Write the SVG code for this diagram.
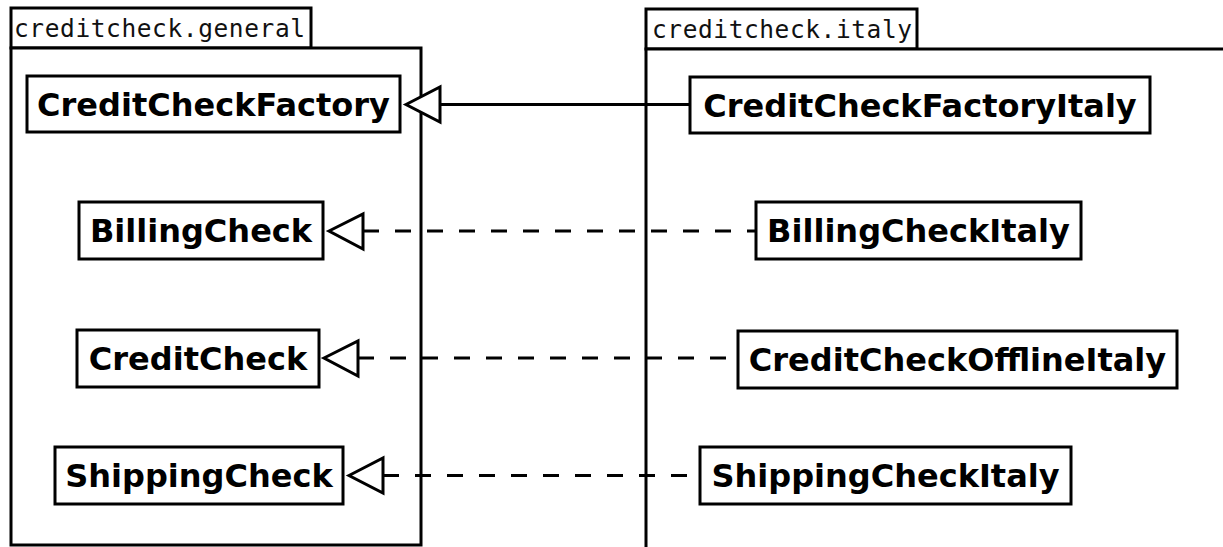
<svg xmlns="http://www.w3.org/2000/svg" width="1223" height="547" viewBox="0 0 1223 547">
  <style>
    .pkg { fill: #ffffff; stroke: #000000; stroke-width: 3; }
    .pkgname { font-family: "DejaVu Sans Mono", "Liberation Mono", monospace; font-size: 24.5px; fill: #111111; }
    .cls { fill: #ffffff; stroke: #000000; stroke-width: 3; }
    .clsname { font-family: "DejaVu Sans", "Liberation Sans", sans-serif; font-weight: bold; font-size: 32px; fill: #000000; text-anchor: middle; }
    .edge { fill: none; stroke: #000000; stroke-width: 3; }
    .dashed { stroke-dasharray: 16 16; }
    .head { fill: #ffffff; stroke: #000000; stroke-width: 3; stroke-linejoin: miter; }
  </style>
  <rect width="1223" height="547" fill="#ffffff"/>

  <!-- package: creditcheck.general -->
  <g id="pkg-general">
    <rect class="pkg" x="11" y="8" width="300" height="40"/>
    <rect class="pkg" x="11" y="48" width="410" height="497"/>
    <text class="pkgname" x="14" y="37" textLength="291" lengthAdjust="spacing">creditcheck.general</text>
  </g>

  <!-- package: creditcheck.italy -->
  <g id="pkg-italy">
    <rect class="pkg" x="646" y="9" width="271" height="40"/>
    <rect class="pkg" x="646" y="49" width="700" height="600"/>
    <text class="pkgname" x="652" y="38" textLength="260" lengthAdjust="spacing">creditcheck.italy</text>
  </g>

  <!-- connectors -->
  <g id="connectors">
    <line class="edge" x1="440" y1="104.5" x2="690" y2="104.5"/>
    <polygon class="head" points="406,104.5 440,87 440,122"/>

    <line class="edge dashed" x1="363" y1="231" x2="756" y2="231"/>
    <polygon class="head" points="329,231 363,214 363,249"/>

    <line class="edge dashed" x1="358" y1="358" x2="738" y2="358"/>
    <polygon class="head" points="324,358 358,341 358,376"/>

    <line class="edge dashed" x1="383" y1="475.5" x2="700" y2="475.5"/>
    <polygon class="head" points="349,475.5 383,458 383,493"/>
  </g>

  <!-- classes in creditcheck.general -->
  <g id="CreditCheckFactory">
    <rect class="cls" x="27" y="76" width="373" height="56"/>
    <text class="clsname" x="213.5" y="115.5">CreditCheckFactory</text>
  </g>
  <g id="BillingCheck">
    <rect class="cls" x="79" y="202" width="244" height="57"/>
    <text class="clsname" x="201" y="242">BillingCheck</text>
  </g>
  <g id="CreditCheck">
    <rect class="cls" x="77" y="330" width="242" height="57"/>
    <text class="clsname" x="198" y="370">CreditCheck</text>
  </g>
  <g id="ShippingCheck">
    <rect class="cls" x="55" y="447" width="288" height="57"/>
    <text class="clsname" x="199" y="487">ShippingCheck</text>
  </g>

  <!-- classes in creditcheck.italy -->
  <g id="CreditCheckFactoryItaly">
    <rect class="cls" x="690" y="77" width="460" height="56"/>
    <text class="clsname" x="920" y="116.5">CreditCheckFactoryItaly</text>
  </g>
  <g id="BillingCheckItaly">
    <rect class="cls" x="756" y="202" width="325" height="57"/>
    <text class="clsname" x="918.5" y="242">BillingCheckItaly</text>
  </g>
  <g id="CreditCheckOfflineItaly">
    <rect class="cls" x="738" y="331" width="439" height="57"/>
    <text class="clsname" x="957.5" y="371">CreditCheckOfflineItaly</text>
  </g>
  <g id="ShippingCheckItaly">
    <rect class="cls" x="700" y="447" width="371" height="57"/>
    <text class="clsname" x="885.5" y="487">ShippingCheckItaly</text>
  </g>
</svg>
